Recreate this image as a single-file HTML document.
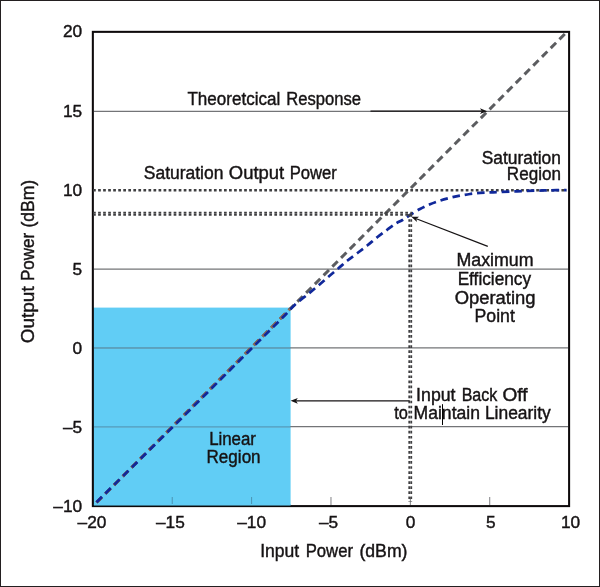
<!DOCTYPE html>
<html lang="en"><head><meta charset="utf-8"><title>Output Power vs Input Power</title>
<style>
html,body{margin:0;padding:0;background:#fff;}
body{width:600px;height:587px;overflow:hidden;}
svg{display:block;}
svg text{font-family:"Liberation Sans",sans-serif;fill:#161314;stroke:#161314;stroke-width:0.42px;}
</style></head><body>
<svg width="600" height="587" viewBox="0 0 600 587">
<rect x="0" y="0" width="600" height="587" fill="#fff"/>
<rect x="93" y="307.6" width="197.6" height="198.5" fill="#61cdf5"/>
<line x1="94" y1="111.35" x2="568" y2="111.35" stroke="#737477" stroke-width="1.25"/>
<line x1="94" y1="269.00" x2="568" y2="269.00" stroke="#737477" stroke-width="1.25"/>
<line x1="94" y1="347.90" x2="568" y2="347.90" stroke="#737477" stroke-width="1.25"/>
<line x1="94" y1="347.90" x2="290.4" y2="347.90" stroke="#55a8cb" stroke-width="1.2"/>
<line x1="94" y1="426.70" x2="568" y2="426.70" stroke="#737477" stroke-width="1.25"/>
<line x1="94" y1="426.70" x2="290.4" y2="426.70" stroke="#55a8cb" stroke-width="1.2"/>
<line x1="172.22" y1="497" x2="172.22" y2="505" stroke="#4a93b3" stroke-width="1"/>
<line x1="251.60" y1="497" x2="251.60" y2="505" stroke="#4a93b3" stroke-width="1"/>
<line x1="330.98" y1="497" x2="330.98" y2="505" stroke="#808184" stroke-width="1"/>
<line x1="410.35" y1="497" x2="410.35" y2="505" stroke="#808184" stroke-width="1"/>
<line x1="489.73" y1="497" x2="489.73" y2="505" stroke="#808184" stroke-width="1"/>
<rect x="92.85" y="31.85" width="476.25" height="474.25" fill="none" stroke="#0d0a0b" stroke-width="2.05"/>
<rect x="93.9" y="504.0" width="196.7" height="1.5" fill="#61cdf5"/>
<line x1="93.07" y1="190.3" x2="566.8" y2="190.3" stroke="#3f3f41" stroke-width="2.6" stroke-dasharray="2.7 2.336"/>
<line x1="96.50" y1="502.55" x2="565.50" y2="33.36" stroke="#5c5d60" stroke-width="3" stroke-dasharray="7.6 4.755"/>
<clipPath id="lin"><rect x="93" y="307.6" width="197.6" height="199"/></clipPath>
<line x1="96.50" y1="502.55" x2="565.50" y2="33.36" stroke="#8f6b55" stroke-width="3" stroke-dasharray="7.6 4.755" clip-path="url(#lin)"/>
<path d="M96.55 502.16 L173.10 426.64 L285.00 315.21  C286.67 313.45 291.00 308.35 295.00 304.70 C299.00 301.05 305.00 296.58 309.00 293.30 C313.00 290.02 315.75 287.77 319.00 285.00 C322.25 282.23 325.25 279.48 328.50 276.70 C331.75 273.92 335.33 271.00 338.50 268.30 C341.67 265.60 344.33 263.05 347.50 260.50 C350.67 257.95 354.17 255.53 357.50 253.00 C360.83 250.47 364.17 247.97 367.50 245.30 C370.83 242.63 374.17 239.63 377.50 237.00 C380.83 234.37 384.42 231.75 387.50 229.50 C390.58 227.25 393.50 225.08 396.00 223.50 C398.50 221.92 400.17 221.42 402.50 220.00 C404.83 218.58 407.08 216.83 410.00 215.00 C412.92 213.17 416.67 210.78 420.00 209.00 C423.33 207.22 426.67 205.70 430.00 204.30 C433.33 202.90 436.67 201.68 440.00 200.60 C443.33 199.52 446.67 198.63 450.00 197.80 C453.33 196.97 456.67 196.23 460.00 195.60 C463.33 194.97 466.67 194.45 470.00 194.00 C473.33 193.55 476.67 193.16 480.00 192.90 C483.33 192.64 486.67 192.60 490.00 192.45 C493.33 192.30 495.50 192.19 500.00 192.00 C504.50 191.81 511.17 191.52 517.00 191.30 C522.83 191.08 529.50 190.87 535.00 190.70 C540.50 190.53 544.75 190.40 550.00 190.30 C555.25 190.20 563.75 190.13 566.50 190.10" fill="none" stroke="#10289a" stroke-width="2.75" stroke-dasharray="7.6 4.83"/>
<line x1="93.07" y1="212.75" x2="412.2" y2="212.75" stroke="#3f3f41" stroke-width="1.8" stroke-dasharray="2.7 2.336"/>
<line x1="93.07" y1="214.85" x2="412.2" y2="214.85" stroke="#3f3f41" stroke-width="1.8" stroke-dasharray="2.7 2.336"/>
<line x1="409.25" y1="214.12" x2="409.25" y2="502.0" stroke="#3f3f41" stroke-width="1.8" stroke-dasharray="2.7 2.3407"/>
<line x1="411.25" y1="214.12" x2="411.25" y2="502.0" stroke="#3f3f41" stroke-width="1.8" stroke-dasharray="2.7 2.3407"/>
<line x1="370.50" y1="111.15" x2="481.80" y2="111.15" stroke="#161314" stroke-width="1.25"/><polygon points="487.20,111.15 480.00,114.05 481.80,111.15 480.00,108.25" fill="#161314"/>
<line x1="487.80" y1="246.30" x2="416.34" y2="218.74" stroke="#161314" stroke-width="1.25"/><polygon points="411.30,216.80 419.06,216.68 416.34,218.74 416.97,222.10" fill="#161314"/>
<line x1="409.70" y1="400.85" x2="296.00" y2="400.85" stroke="#161314" stroke-width="1.25"/><polygon points="290.60,400.85 297.80,397.95 296.00,400.85 297.80,403.75" fill="#161314"/>
<line x1="442.5" y1="404.2" x2="442.5" y2="425" stroke="#000" stroke-width="1"/>
<g>
<text x="187.39" y="104.60" font-size="18" textLength="92.88" lengthAdjust="spacingAndGlyphs">Theoretcical</text>
<text x="286.24" y="104.60" font-size="18" textLength="74.76" lengthAdjust="spacingAndGlyphs">Response</text>
<text x="143.77" y="178.60" font-size="18" textLength="79.62" lengthAdjust="spacingAndGlyphs">Saturation</text>
<text x="228.86" y="178.60" font-size="18" textLength="55.37" lengthAdjust="spacingAndGlyphs">Output</text>
<text x="289.69" y="178.60" font-size="18" textLength="47.15" lengthAdjust="spacingAndGlyphs">Power</text>
<text x="481.76" y="163.50" font-size="18" textLength="79.16" lengthAdjust="spacingAndGlyphs">Saturation</text>
<text x="506.86" y="180.30" font-size="18" textLength="54.05" lengthAdjust="spacingAndGlyphs">Region</text>
<text x="456.47" y="266.20" font-size="18" textLength="77.11" lengthAdjust="spacingAndGlyphs">Maximum</text>
<text x="457.63" y="284.90" font-size="18" textLength="73.42" lengthAdjust="spacingAndGlyphs">Efficiency</text>
<text x="454.66" y="303.50" font-size="18" textLength="80.92" lengthAdjust="spacingAndGlyphs">Operating</text>
<text x="474.59" y="322.00" font-size="18" textLength="40.28" lengthAdjust="spacingAndGlyphs">Point</text>
<text x="416.12" y="400.80" font-size="18" textLength="39.40" lengthAdjust="spacingAndGlyphs">Input</text>
<text x="461.67" y="400.80" font-size="18" textLength="35.69" lengthAdjust="spacingAndGlyphs">Back</text>
<text x="502.55" y="400.80" font-size="18" textLength="25.07" lengthAdjust="spacingAndGlyphs">Off</text>
<text x="394.15" y="418.70" font-size="18" textLength="13.66" lengthAdjust="spacingAndGlyphs">to</text>
<text x="413.59" y="418.70" font-size="18" textLength="66.37" lengthAdjust="spacingAndGlyphs">Maintain</text>
<text x="484.92" y="418.70" font-size="18" textLength="65.83" lengthAdjust="spacingAndGlyphs">Linearity</text>
<text x="209.13" y="444.75" font-size="18" textLength="46.85" lengthAdjust="spacingAndGlyphs">Linear</text>
<text x="206.55" y="462.75" font-size="18" textLength="54.06" lengthAdjust="spacingAndGlyphs">Region</text>
<text x="260.25" y="556.75" font-size="18" textLength="39.00" lengthAdjust="spacingAndGlyphs">Input</text>
<text x="305.69" y="556.75" font-size="18" textLength="47.28" lengthAdjust="spacingAndGlyphs">Power</text>
<text x="359.44" y="556.75" font-size="18" textLength="48.00" lengthAdjust="spacingAndGlyphs">(dBm)</text>
<text transform="translate(34.00 343.32) rotate(-90)" x="0" y="0" font-size="18" textLength="57.00" lengthAdjust="spacingAndGlyphs">Output</text>
<text transform="translate(34.00 281.00) rotate(-90)" x="0" y="0" font-size="18" textLength="48.25" lengthAdjust="spacingAndGlyphs">Power</text>
<text transform="translate(34.00 227.57) rotate(-90)" x="0" y="0" font-size="18" textLength="47.67" lengthAdjust="spacingAndGlyphs">(dBm)</text>
<text x="82.2" y="36.60" font-size="17.3" text-anchor="end">20</text>
<text x="82.2" y="116.60" font-size="17.3" text-anchor="end">15</text>
<text x="82.2" y="195.60" font-size="17.3" text-anchor="end">10</text>
<text x="82.2" y="274.90" font-size="17.3" text-anchor="end">5</text>
<text x="82.2" y="353.70" font-size="17.3" text-anchor="end">0</text>
<text x="82.2" y="433.20" font-size="17.3" text-anchor="end">–5</text>
<text x="82.2" y="512.00" font-size="17.3" text-anchor="end">–10</text>
<text x="92.00" y="527.6" font-size="17.3" text-anchor="middle">–20</text>
<text x="170.40" y="527.6" font-size="17.3" text-anchor="middle">–15</text>
<text x="251.60" y="527.6" font-size="17.3" text-anchor="middle">–10</text>
<text x="328.60" y="527.6" font-size="17.3" text-anchor="middle">–5</text>
<text x="410.50" y="527.6" font-size="17.3" text-anchor="middle">0</text>
<text x="490.70" y="527.6" font-size="17.3" text-anchor="middle">5</text>
<text x="570.50" y="527.6" font-size="17.3" text-anchor="middle">10</text>
</g>
<rect x="0.5" y="0.5" width="599" height="586" fill="none" stroke="#231f20" stroke-width="1"/>
</svg>
</body></html>
